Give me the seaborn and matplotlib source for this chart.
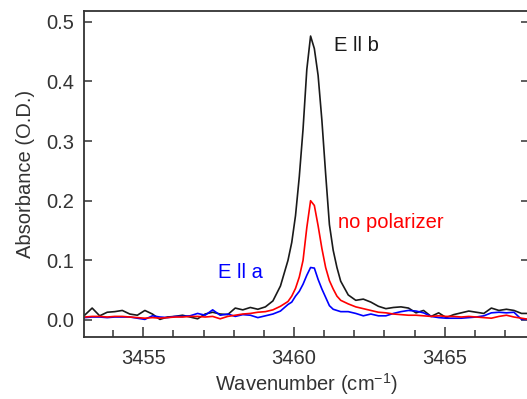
"""
Polarized IR absorbance spectra around 3460 cm-1
"""

import pandas as pd
import matplotlib
matplotlib.use("Agg")
import matplotlib.pyplot as plt
from matplotlib.ticker import MultipleLocator
import seaborn as sns

# Wavenumber (cm-1), finer sampling across the peak
wavenumber = [3453.05, 3453.30, 3453.55, 3453.80, 3454.05, 3454.30, 3454.55, 3454.80,
              3455.05, 3455.30, 3455.55, 3455.80, 3456.05, 3456.30, 3456.55, 3456.80,
              3457.05, 3457.30, 3457.55, 3457.80, 3458.05, 3458.30, 3458.55, 3458.80,
              3459.05, 3459.30, 3459.55, 3459.80, 3459.925, 3460.05, 3460.175, 3460.30,
              3460.425, 3460.55, 3460.675, 3460.80, 3460.925, 3461.05, 3461.175, 3461.30,
              3461.425, 3461.55, 3461.80, 3462.05, 3462.30, 3462.55, 3462.80, 3463.05,
              3463.30, 3463.55, 3463.80, 3464.05, 3464.30, 3464.55, 3464.80, 3465.05,
              3465.30, 3465.55, 3465.80, 3466.05, 3466.30, 3466.55, 3466.80, 3467.05,
              3467.30, 3467.55, 3467.80]

# Absorbance (O.D.)
abs_b = [0.008, 0.020, 0.007, 0.013, 0.014, 0.016, 0.010, 0.008,
         0.016, 0.010, 0.001, 0.005, 0.006, 0.008, 0.005, 0.002,
         0.010, 0.013, 0.010, 0.009, 0.020, 0.017, 0.021, 0.018,
         0.022, 0.032, 0.057, 0.100, 0.130, 0.175, 0.240, 0.320,
         0.420, 0.476, 0.455, 0.410, 0.335, 0.245, 0.160, 0.117,
         0.088, 0.065, 0.042, 0.033, 0.035, 0.030, 0.023, 0.019,
         0.021, 0.022, 0.020, 0.012, 0.016, 0.006, 0.012, 0.004,
         0.009, 0.012, 0.015, 0.013, 0.011, 0.020, 0.016, 0.018,
         0.016, 0.011, 0.011]

abs_none = [0.005, 0.006, 0.006, 0.005, 0.006, 0.006, 0.005, 0.004,
            0.003, 0.004, 0.003, 0.004, 0.005, 0.005, 0.006, 0.006,
            0.005, 0.006, 0.002, 0.006, 0.008, 0.010, 0.011, 0.013,
            0.014, 0.017, 0.023, 0.031, 0.040, 0.053, 0.072, 0.100,
            0.155, 0.200, 0.192, 0.158, 0.120, 0.088, 0.066, 0.052,
            0.040, 0.033, 0.027, 0.022, 0.019, 0.016, 0.013, 0.012,
            0.010, 0.009, 0.008, 0.008, 0.007, 0.006, 0.007, 0.006,
            0.006, 0.005, 0.006, 0.005, 0.004, 0.003, 0.006, 0.008,
            0.005, 0.003, 0.001]

abs_a = [0.004, 0.005, 0.005, 0.004, 0.005, 0.005, 0.005, 0.003,
         0.001, 0.007, 0.005, 0.004, 0.006, 0.006, 0.007, 0.011,
         0.008, 0.017, 0.008, 0.010, 0.006, 0.009, 0.008, 0.004,
         0.007, 0.010, 0.015, 0.026, 0.030, 0.040, 0.048, 0.060,
         0.075, 0.088, 0.087, 0.068, 0.052, 0.038, 0.024, 0.018,
         0.016, 0.014, 0.014, 0.011, 0.007, 0.010, 0.007, 0.007,
         0.011, 0.014, 0.016, 0.015, 0.012, 0.006, 0.004, 0.003,
         0.003, 0.003, 0.004, 0.005, 0.007, 0.012, 0.013, 0.012,
         0.013, 0.001, 0.001]

series_names = ["E ll b", "E ll a", "no polarizer"]
series_colors = ["#1a1a1a", "#0000ff", "#ff0000"]

df = pd.concat([
    pd.DataFrame({"wavenumber": wavenumber, "absorbance": vals, "series": name})
    for name, vals in zip(series_names, [abs_b, abs_a, abs_none])
])

sns.set_theme(style="ticks")
plt.rcParams["font.family"] = ["Liberation Sans", "DejaVu Sans"]
plt.rcParams["mathtext.fontset"] = "custom"
plt.rcParams["mathtext.rm"] = "Liberation Sans"
plt.rcParams["mathtext.it"] = "Liberation Sans"

text_color = "#333333"

fig = plt.figure(figsize=(5.27, 3.99), dpi=100)
ax = fig.add_axes([0.1594, 0.1554, 0.8450, 0.8170])

sns.lineplot(data=df, x="wavenumber", y="absorbance", hue="series",
             hue_order=series_names, palette=series_colors,
             linewidth=1.2, legend=False, ax=ax, estimator=None, sort=False)

ax.set_xlim(3453.03, 3467.81)
ax.set_ylim(-0.0285, 0.518)
ax.xaxis.set_major_locator(MultipleLocator(5))
ax.xaxis.set_minor_locator(MultipleLocator(1))
ax.yaxis.set_major_locator(MultipleLocator(0.1))

ax.tick_params(axis="both", which="both", direction="in", colors=text_color,
               labelsize=14.5, width=1.1)
ax.tick_params(axis="y", which="major", length=6, pad=7, right=True)
ax.tick_params(axis="x", which="major", length=7, pad=9, top=False)
ax.tick_params(axis="x", which="minor", length=5, top=False)
for s in ax.spines.values():
    s.set_color(text_color)
    s.set_linewidth(1.3)

ax.set_xlabel("Wavenumber (cm$^{-1}$)", fontsize=14.5, color=text_color, labelpad=2)
ax.set_ylabel("Absorbance (O.D.)", fontsize=14.5, color=text_color, labelpad=8)

ax.text(3461.32, 0.46, "E ll b", color="#1a1a1a", fontsize=14.5, va="center")
ax.text(3461.45, 0.164, "no polarizer", color="#ff0000", fontsize=14.5, va="center")
ax.text(3457.47, 0.080, "E ll a", color="#0000ff", fontsize=14.5, va="center")

fig.savefig("out.png", dpi=100)
